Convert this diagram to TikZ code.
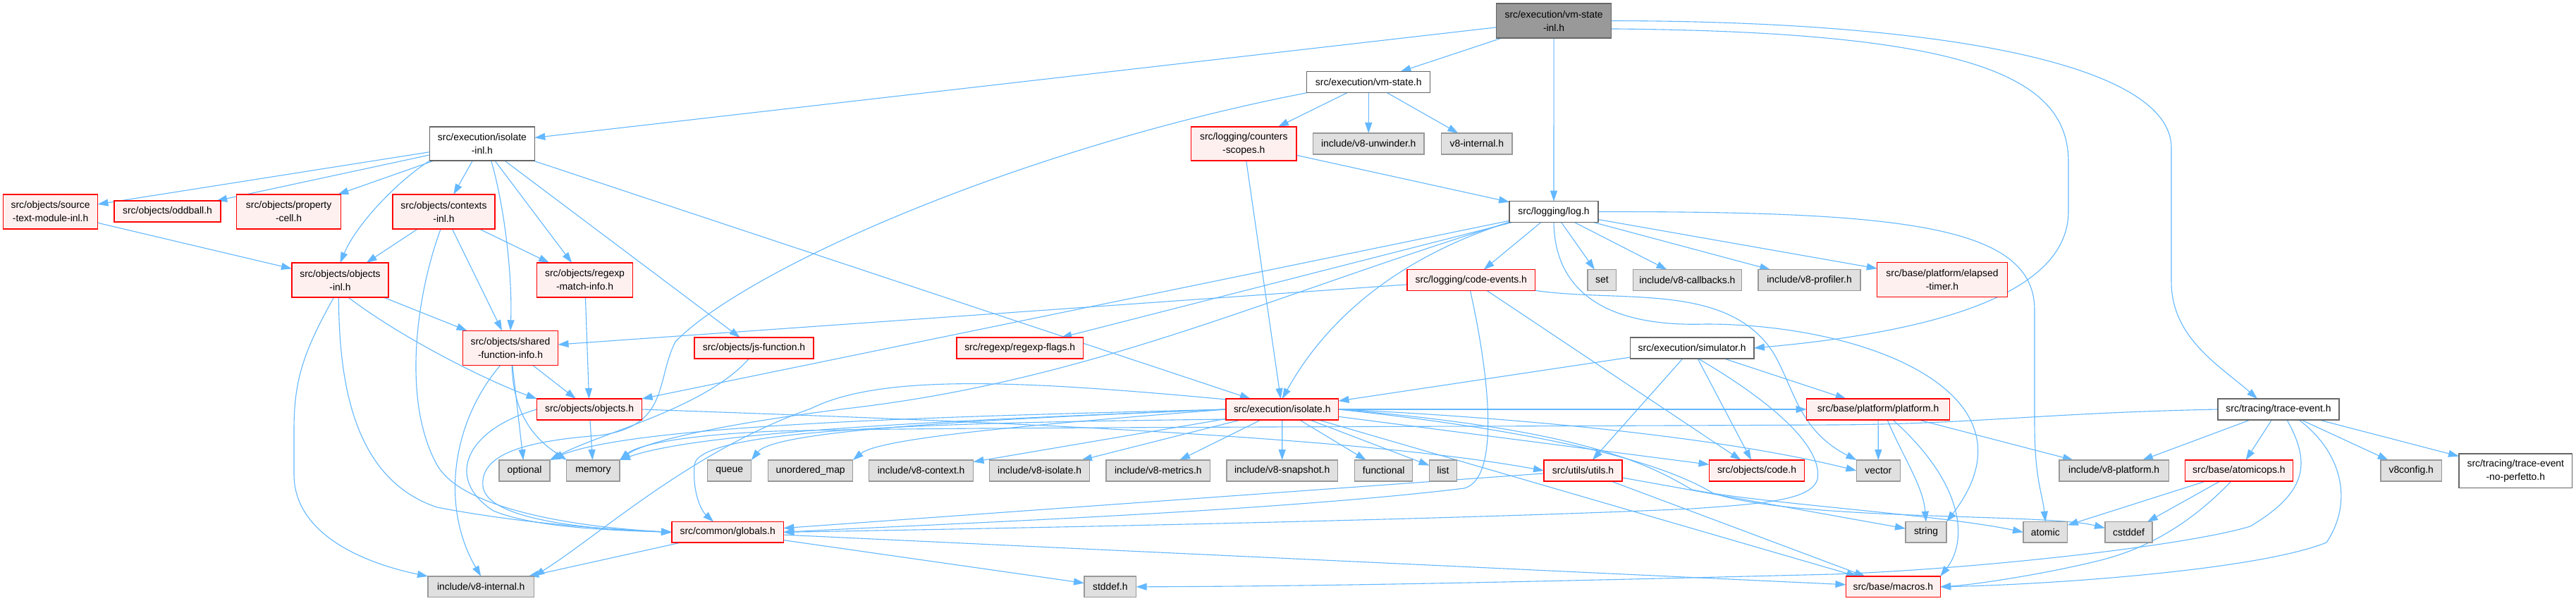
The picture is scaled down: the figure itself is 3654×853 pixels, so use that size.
\documentclass[tikz,border=0pt]{standalone}
\usepackage{fontspec}
\setmainfont{Liberation Sans}
\usetikzlibrary{arrows.meta}
\definecolor{edgec}{HTML}{63B8FF}
\definecolor{redb}{HTML}{FF0000}
\definecolor{redf}{HTML}{FFF0F0}
\definecolor{grayb}{HTML}{999999}
\definecolor{grayf}{HTML}{E0E0E0}
\definecolor{whiteb}{HTML}{666666}
\definecolor{rootf}{HTML}{999999}
\pgfdeclarelayer{bgfill}
\pgfdeclarelayer{bg}
\pgfsetlayers{bgfill,bg,main}
\tikzset{
  base/.style={rectangle, inner sep=0pt, outer sep=0pt, align=center,
    font=\fontsize{13.9}{19}\selectfont, line width=1.2pt},
  rb/.style={base, draw=redb, fill=redf},
  gb/.style={base, draw=grayb, fill=grayf},
  wb/.style={base, draw=whiteb, fill=white},
  rootb/.style={base, draw=whiteb, fill=rootf},
  e/.style={draw=edgec, line width=1.1pt, -{Triangle[length=15pt,width=10pt]}}
}
\newcommand{\nb}[7]{\node[#1,minimum width={#4-#3},minimum height={#6-#5}] (#2) at ({(#3+#4)/2},{(#5+#6)/2}) {#7};}
\begin{document}
\begin{tikzpicture}[x=1pt,y=-1pt]
\begin{pgfonlayer}{bgfill}
\fill[white] (0,0) rectangle (3654,853);
\end{pgfonlayer}
\useasboundingbox (0,0) rectangle (3654,853);
% nodes
\nb{rootb}{vmsi}{2122.5}{2285.6}{5}{54}{src/execution/vm-state\\-inl.h}
\nb{wb}{vmstate}{1853.8}{2028.7}{101.7}{131.7}{src/execution/vm-state.h}
\nb{wb}{isolinl}{609.5}{758.3}{180}{228}{src/execution/isolate\\-inl.h}
\nb{rb}{counters}{1689.5}{1839}{180}{228}{src/logging/counters\\-scopes.h}
\nb{gb}{unwinder}{1862.5}{2020}{189}{219}{include/v8-unwinder.h}
\nb{gb}{vinttop}{2044.6}{2145}{189}{219}{v8-internal.h}
\nb{rb}{source}{4.7}{138.5}{276}{325}{src/objects/source\\-text-module-inl.h}
\nb{rb}{oddball}{162}{313}{285}{315}{src/objects/oddball.h}
\nb{rb}{property}{335.6}{483.6}{276}{325}{src/objects/property\\-cell.h}
\nb{rb}{contexts}{557}{702}{276}{325}{src/objects/contexts\\-inl.h}
\nb{wb}{log}{2141}{2267}{285.7}{315.3}{src/logging/log.h}
\nb{rb}{objinl}{414}{551}{373}{422}{src/objects/objects\\-inl.h}
\nb{rb}{rxmatch}{761.5}{897.6}{373}{422}{src/objects/regexp\\-match-info.h}
\nb{rb}{codeev}{1996}{2177.5}{382.7}{412.3}{src/logging/code-events.h}
\nb{gb}{set}{2252}{2292.7}{382.7}{412.3}{set}
\nb{gb}{callbacks}{2316.4}{2470.4}{382.7}{412.3}{include/v8-callbacks.h}
\nb{gb}{profiler}{2494}{2639}{382.7}{412.3}{include/v8-profiler.h}
\nb{rb}{elapsed}{2662.8}{2847.2}{372.7}{421.7}{src/base/platform/elapsed\\-timer.h}
\nb{rb}{sharedfn}{656.6}{791.5}{469.3}{518.3}{src/objects/shared\\-function-info.h}
\nb{rb}{jsfunc}{985}{1154}{479}{509}{src/objects/js-function.h}
\nb{rb}{rxflags}{1357}{1536.4}{479}{509}{src/regexp/regexp-flags.h}
\nb{wb}{simulator}{2312.5}{2487.9}{479}{509}{src/execution/simulator.h}
\nb{rb}{objects}{761.5}{910.6}{566}{596}{src/objects/objects.h}
\nb{rb}{isolate}{1739}{1898.5}{566}{596}{src/execution/isolate.h}
\nb{rb}{platform}{2562.6}{2765.6}{566}{596}{src/base/platform/platform.h}
\nb{wb}{trace}{3146}{3318}{566}{596}{src/tracing/trace-event.h}
\nb{gb}{optional}{708}{780}{653}{683}{optional}
\nb{gb}{memory}{803.8}{879}{653}{683}{memory}
\nb{gb}{queue}{1003.6}{1065.8}{653}{683}{queue}
\nb{gb}{umap}{1089.5}{1209.8}{653}{683}{unordered\_map}
\nb{gb}{vcontext}{1232.8}{1380.5}{653}{683}{include/v8-context.h}
\nb{gb}{visolate}{1403.8}{1545.5}{653}{683}{include/v8-isolate.h}
\nb{gb}{vmetrics}{1569}{1716.8}{653}{683}{include/v8-metrics.h}
\nb{gb}{vsnapshot}{1740}{1897.3}{653}{683}{include/v8-snapshot.h}
\nb{gb}{functional}{1921.5}{2003.8}{653}{683}{functional}
\nb{gb}{list}{2027.5}{2066.3}{653}{683}{list}
\nb{rb}{utils}{2190}{2301}{653}{683}{src/utils/utils.h}
\nb{rb}{code}{2424.5}{2559.5}{653}{683}{src/objects/code.h}
\nb{gb}{vector}{2633.5}{2695.2}{653}{683}{vector}
\nb{gb}{vplatform}{2921}{3076.3}{653}{683}{include/v8-platform.h}
\nb{rb}{atomicops}{3099.3}{3252.4}{653}{683}{src/base/atomicops.h}
\nb{gb}{vconfig}{3377}{3463.4}{653}{683}{v8config.h}
\nb{wb}{noperf}{3488}{3648.6}{644}{692.7}{src/tracing/trace-event\\-no-perfetto.h}
\nb{rb}{globals}{953}{1111.3}{740.7}{770}{src/common/globals.h}
\nb{gb}{string}{2703}{2761}{740.7}{770}{string}
\nb{gb}{atomic}{2870}{2932.7}{740.7}{770}{atomic}
\nb{gb}{cstddef}{2986}{3053}{740.7}{770}{cstddef}
\nb{gb}{vint}{607}{757.5}{818}{847.7}{include/v8-internal.h}
\nb{gb}{stddef}{1538}{1611.6}{818}{847.7}{stddef.h}
\nb{rb}{macros}{2618.4}{2752.2}{818}{847.7}{src/base/macros.h}
\begin{pgfonlayer}{bg}
% root
\draw[e] (vmsi) -- (isolinl);
\draw[e] (vmsi) -- (vmstate);
\draw[e] (vmsi) -- (log);
\draw[e] (vmsi.-8) .. controls (2800,45) and (2934,110) .. (2934,230) -- (2934,300) .. controls (2934,430) and (2700,475) .. (simulator.east);
\draw[e] (vmsi.east) .. controls (2750,30) and (3080,90) .. (3080,210) -- (3080,400) .. controls (3080,480) and (3150,520) .. ([xshift=-30pt]trace.north);
% vm-state.h
\draw[e] (vmstate) -- (counters);
\draw[e] (vmstate) -- (unwinder);
\draw[e] (vmstate) -- (vinttop);
\draw[e] (vmstate.south west) .. controls (1450,210) and (1060,380) .. (958,485) .. controls (930,540) and (950,605) .. (850,618) .. controls (760,625) and (680,640) .. (685,690) .. controls (690,740) and (850,752) .. (globals.west);
% counters
\draw[e] (counters) -- (log);
\draw[e] (counters) -- (isolate);
% isolate-inl
\draw[e] (isolinl) -- (source);
\draw[e] (isolinl) -- (oddball);
\draw[e] (isolinl) -- (property);
\draw[e] (isolinl) -- (contexts);
\draw[e] (isolinl.south west) .. controls (560,260) and (505,320) .. (objinl.north);
\draw[e] (isolinl.-62) .. controls (715,290) and (727,390) .. (sharedfn.north);
\draw[e] (isolinl) -- (rxmatch);
\draw[e] (isolinl) -- (jsfunc);
\draw[e] (isolinl) -- (isolate);
\draw[e] (source) -- (objinl);
% contexts
\draw[e] (contexts) -- (objinl);
\draw[e] (contexts) -- (sharedfn);
\draw[e] (contexts) -- (rxmatch);
\draw[e] (contexts.-100) .. controls (590,420) and (570,570) .. (620,660) .. controls (660,730) and (850,750) .. (globals.west);
% objects-inl
\draw[e] (objinl) -- (sharedfn);
\draw[e] (objinl.-65) .. controls (570,480) and (690,540) .. (objects.north west);
\draw[e] (objinl.-110) .. controls (430,500) and (417,540) .. (417,610) -- (417,673) .. controls (417,760) and (520,800) .. (vint.north west);
\draw[e] (objinl.-95) .. controls (481,540) and (500,680) .. (620,720) .. controls (750,745) and (880,752) .. (globals.west);
\draw[e] (rxmatch) -- (objects);
% shared-function-info
\draw[e] (sharedfn) -- (objects);
\draw[e] (sharedfn) -- (optional);
\draw[e] (sharedfn.-85) .. controls (728,600) and (770,630) .. (memory.north west);
\draw[e] (sharedfn.-120) .. controls (640,600) and (625,720) .. (vint.north);
\draw[e] (jsfunc.-115) .. controls (1000,580) and (850,615) .. (optional.north east);
% objects.h
\draw[e] (objects) -- (memory);
\draw[e] (objects.east) .. controls (1300,595) and (1900,615) .. (utils.west);
\draw[e] (objects.west) .. controls (660,610) and (630,680) .. (700,725) .. controls (760,750) and (880,753) .. (globals.west);
% log.h
\draw[e] (log.south west) .. controls (2030,350) and (1900,420) .. (isolate.north);
\draw[e] (log) -- (codeev);
\draw[e] (log) -- (set);
\draw[e] (log) -- (callbacks);
\draw[e] (log) -- (profiler);
\draw[e] (log) -- (elapsed);
\draw[e] (log.east) .. controls (2700,300) and (2886,320) .. (2886,440) -- (2886,600) .. controls (2886,680) and (2897,700) .. (atomic.north);
\draw[e] (log) -- (rxflags);
\draw[e] (log) -- (objects);
\draw[e] (log.south west) .. controls (1800,420) and (1550,540) .. (1200,580) .. controls (1000,605) and (910,630) .. (memory.north east);
\draw[e] (log.south) .. controls (2205,400) and (2260,465) .. (2420,460) .. controls (2650,460) and (2900,560) .. (string.north east);
% code-events
\draw[e] (codeev) -- (sharedfn);
\draw[e] (codeev.-95) .. controls (2116,550) and (2125,680) .. (2077,693) .. controls (1800,727) and (1300,745) .. (globals.east);
\draw[e] (codeev) -- (code);
\draw[e] (codeev.south east) .. controls (2300,430) and (2450,400) .. (2515,500) .. controls (2545,550) and (2550,610) .. (vector.north west);
% simulator
\draw[e] (simulator) -- (isolate);
\draw[e] (simulator) -- (platform);
\draw[e] (simulator) -- (utils);
\draw[e] (simulator) -- (code);
\draw[e] (simulator.-60) .. controls (2530,580) and (2585,640) .. (2578,680) .. controls (2570,710) and (2500,715) .. (2400,722) .. controls (2000,740) and (1300,752) .. (globals.east);
% isolate.h
\draw[e] (isolate.west) .. controls (1400,590) and (900,600) .. (optional.north east);
\draw[e] (isolate.west) .. controls (1400,595) and (1000,610) .. (memory.north east);
\draw[e] (isolate.west) .. controls (1400,595) and (1100,610) .. (queue.north east);
\draw[e] (isolate.west) .. controls (1500,600) and (1250,620) .. (umap.north east);
\draw[e] (isolate) -- (vcontext);
\draw[e] (isolate) -- (visolate);
\draw[e] (isolate) -- (vmetrics);
\draw[e] (isolate) -- (vsnapshot);
\draw[e] (isolate) -- (functional);
\draw[e] (isolate) -- (list);
\draw[e] (isolate.-170) .. controls (1300,600) and (990,610) .. (985,660) .. controls (982,700) and (995,725) .. ([xshift=-20pt]globals.north);
\draw[e] (isolate) -- (code);
\draw[e] (isolate.east) .. controls (2100,590) and (2420,615) .. (vector.west);
\draw[e] (isolate.east) .. controls (2250,610) and (2340,660) .. (2400,695) .. controls (2500,715) and (2750,730) .. (atomic.west);
\draw[e] (isolate.east) .. controls (2260,620) and (2380,670) .. (2430,700) .. controls (2550,740) and (2900,728) .. (cstddef.170);
\draw[e] (isolate) -- (macros);
\draw[e] (isolate.170) .. controls (1450,540) and (1250,530) .. (1150,580) .. controls (980,640) and (850,760) .. (vint.north east);
\draw[e] (isolate) -- (platform);
% platform
\draw[e] (platform) -- (vector);
\draw[e] ([xshift=13pt]platform.south) .. controls (2700,650) and (2728,690) .. (string.north);
\draw[e] ([xshift=21pt]platform.south) .. controls (2790,690) and (2790,770) .. (macros.north east);
\draw[e] (platform) -- (vplatform);
% trace-event
\draw[e] (trace) -- (vplatform);
\draw[e] (trace) -- (atomicops);
\draw[e] (trace) -- (vconfig);
\draw[e] (trace) -- (noperf);
\draw[e] (trace.west) .. controls (2900,586) and (2800,602) .. (2600,603) .. controls (2000,606) and (1300,606) .. (1100,612) .. controls (950,618) and (900,635) .. (memory.north east);
\draw[e] ([xshift=12pt]trace.south) .. controls (3280,660) and (3270,700) .. (3192,747) .. controls (3100,775) and (2800,808) .. (2600,815) .. controls (2200,825) and (1900,832) .. (stddef.east);
\draw[e] ([xshift=29pt]trace.south) .. controls (3320,640) and (3340,710) .. (3300,770) .. controls (3200,810) and (2900,830) .. (macros.east);
% atomicops
\draw[e] (atomicops) -- (atomic);
\draw[e] (atomicops) -- (cstddef);
\draw[e] ([xshift=-11pt]atomicops.south) .. controls (3120,730) and (3060,775) .. (2980,795) .. controls (2900,815) and (2800,830) .. (macros.east);
% utils
\draw[e] (utils) -- (globals);
\draw[e] (utils) -- (string);
\draw[e] (utils) -- (macros);
% globals
\draw[e] (globals) -- (vint);
\draw[e] (globals) -- (stddef);
\draw[e] (globals) -- (macros);
\end{pgfonlayer}
\end{tikzpicture}
\end{document}
